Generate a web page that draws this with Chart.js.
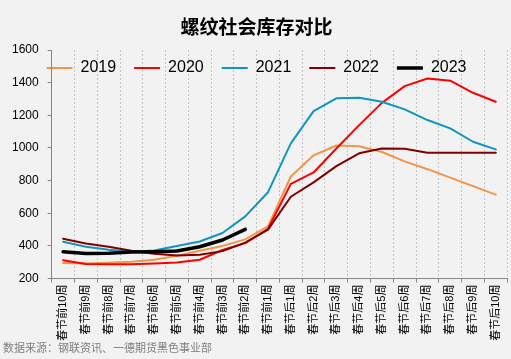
<!DOCTYPE html>
<html>
<head>
<meta charset="utf-8">
<script src="https://cdn.jsdelivr.net/npm/chart.js@4.4.1/dist/chart.umd.min.js"></script>
<style>
  html, body { margin: 0; padding: 0; background: #f2f2f2; }
  #wrap { position: relative; width: 511px; height: 359px; }
</style>
</head>
<body>
<div id="wrap"><canvas id="line-chart1"></canvas></div>
<script>
const weeks = [
  '春节前10周','春节前9周','春节前8周','春节前7周','春节前6周',
  '春节前5周','春节前4周','春节前3周','春节前2周','春节前1周',
  '春节后1周','春节后2周','春节后3周','春节后4周','春节后5周',
  '春节后6周','春节后7周','春节后8周','春节后9周','春节后10周'
];
const y2019 = [295, 293, 297, 303, 315, 340, 370, 400, 440, 520, 825, 955, 1015, 1010, 975, 918, 870, 818, 766, 714];
const y2020 = [312, 289, 288, 288, 292, 298, 315, 375, 417, 505, 780, 850, 997, 1140, 1276, 1379, 1425, 1412, 1338, 1283];
const y2021 = [425, 395, 377, 364, 372, 400, 427, 479, 581, 729, 1028, 1226, 1304, 1307, 1283, 1236, 1171, 1120, 1038, 991];
const y2022 = [444, 415, 395, 370, 352, 342, 346, 368, 420, 500, 701, 789, 889, 967, 997, 995, 970, 970, 970, 970];
const y2023 = [364, 354, 355, 362, 364, 369, 395, 436, 501];
const yTicks = [200, 1600, 200]; // min, max, step

const FONT = '"Liberation Sans", "Noto Sans CJK SC", sans-serif';
const AXIS = '#868686';

// legend sits inside the plot area, so it takes no layout height
const insideLegend = {
  id: 'insideLegend',
  beforeLayout(chart) {
    const lg = chart.legend;
    if (lg && !lg._inside) {
      const fit = lg.fit;
      lg.fit = function () {
        fit.call(this);
        this._fullH = this.height;
        this.height = 0;
      };
      lg._inside = true;
    }
  },
  afterLayout(chart) {
    const lg = chart.legend;
    lg.top = chart.chartArea.top - 8;
    lg.height = lg._fullH;
    lg.bottom = lg.top + lg.height;
  }
};

let lineChart1 = document.getElementById('line-chart1');
let myLineChart1 = new Chart(lineChart1, {
  type: 'line',
  data: {
    labels: weeks,
    datasets: [
      { label: '2019', data: y2019, borderColor: '#f0954a', backgroundColor: '#f0954a', borderWidth: 2, order: 5 },
      { label: '2020', data: y2020, borderColor: '#ff0000', backgroundColor: '#ff0000', borderWidth: 2, order: 4 },
      { label: '2021', data: y2021, borderColor: '#1096be', backgroundColor: '#1096be', borderWidth: 2, order: 3 },
      { label: '2022', data: y2022, borderColor: '#800000', backgroundColor: '#800000', borderWidth: 2, order: 2 },
      { label: '2023', data: y2023, borderColor: '#000000', backgroundColor: '#000000', borderWidth: 3.5, order: 1 }
    ]
  },
  options: {
    maintainAspectRatio: false,
    animation: false,
    events: [],
    elements: {
      point: { radius: 0 },
      line: { tension: 0, borderJoinStyle: 'round', borderCapStyle: 'round' }
    },
    layout: { padding: { left: 3, right: 1, top: 0, bottom: 0 } },
    plugins: {
      title: {
        display: true,
        text: '螺纹社会库存对比',
        color: '#000',
        font: { family: '"Noto Sans CJK SC", sans-serif', size: 19, weight: 'bold' },
        padding: { top: 15, bottom: 12.2 }
      },
      subtitle: {
        display: true,
        text: '数据来源：钢联资讯、一德期货黑色事业部',
        position: 'bottom',
        align: 'start',
        color: '#7f7f7f',
        font: { family: FONT, size: 11 },
        padding: { top: 0, bottom: 3 }
      },
      legend: {
        display: true,
        position: 'top',
        labels: {
          usePointStyle: true,
          pointStyle: 'line',
          pointStyleWidth: 26,
          padding: 18,
          color: '#000',
          font: { family: FONT, size: 16 },
          sort: (a, b) => a.datasetIndex - b.datasetIndex
        }
      },
      tooltip: { enabled: false }
    },
    scales: {
      x: {
        offset: true,
        grid: {
          offset: true,
          drawOnChartArea: true,
          color: ctx => ctx.index === 0 ? 'rgba(0,0,0,0)' : '#c4c4c4',
          tickColor: AXIS,
          tickLength: 4,
          tickBorderDash: []
        },
        border: { color: AXIS, dash: [2, 2] },
        ticks: {
          autoSkip: false,
          minRotation: 90,
          maxRotation: 90,
          padding: 2,
          color: '#000',
          font: { family: FONT, size: 11 }
        }
      },
      y: {
        min: yTicks[0],
        max: yTicks[1],
        grid: { drawOnChartArea: false, tickLength: 4, tickColor: AXIS },
        border: { color: AXIS },
        ticks: {
          stepSize: yTicks[2],
          padding: 9,
          color: '#000',
          font: { family: FONT, size: 12 },
          callback: v => String(v)
        }
      }
    }
  },
  plugins: [insideLegend]
});
</script>
</body>
</html>
